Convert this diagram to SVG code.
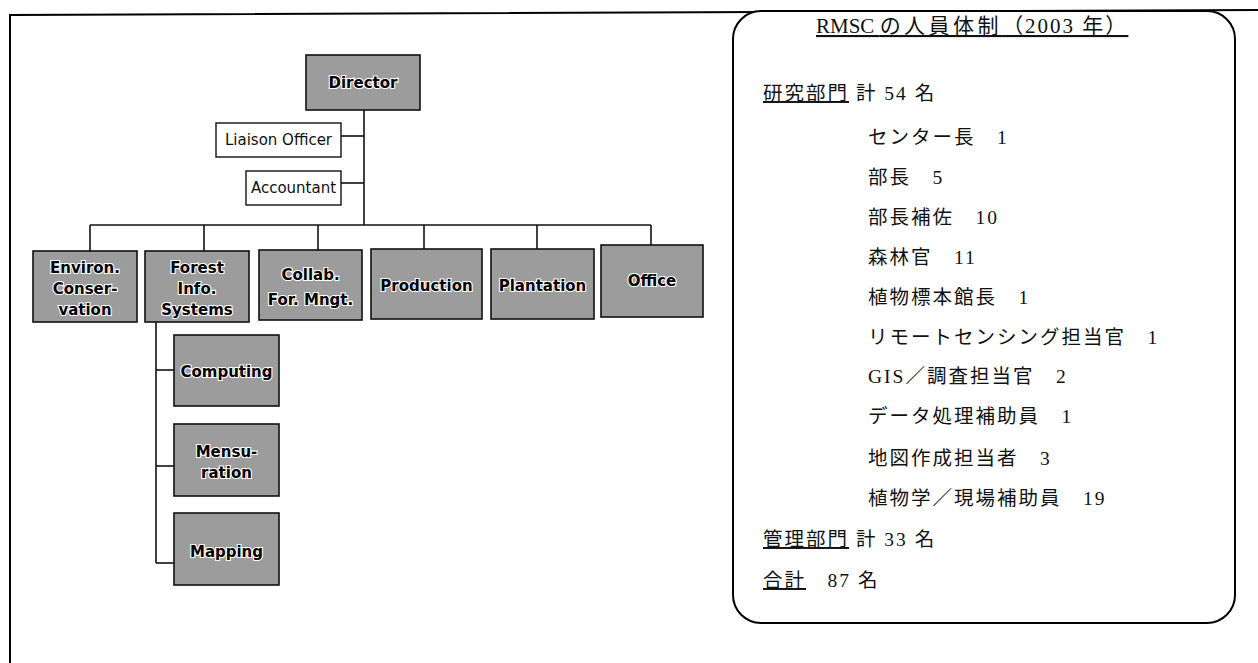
<svg xmlns="http://www.w3.org/2000/svg" width="1258" height="663" viewBox="0 0 1258 663">
<style>
.frame{fill:none;stroke:#000;stroke-width:2}
.gbox{fill:#9c9c9c;stroke:#111;stroke-width:1.6}
.wbox{fill:#fff;stroke:#111;stroke-width:1.4}
.gt{font-family:"DejaVu Sans",Verdana,sans-serif;font-weight:bold;font-size:15px;fill:#000;stroke:#fff;stroke-width:2.2;paint-order:stroke;text-anchor:middle}
.wt{font-family:"DejaVu Sans",Verdana,sans-serif;font-size:15px;fill:#111;text-anchor:middle}
.conn line{stroke:#111;stroke-width:1.6}
.jp{font-family:"Liberation Serif","Noto Sans CJK JP",serif;font-size:19.5px;fill:#111;letter-spacing:2px}
.ttl{font-family:"Liberation Serif","Noto Sans CJK JP",serif;font-size:21px;fill:#111;text-decoration:underline}
.cj{letter-spacing:3.5px}
.yr{letter-spacing:2px}
.u{text-decoration:underline}
</style>
<rect width="1258" height="663" fill="#fff"/>
<path class="frame" d="M10 663 L10 15 L1258 10"/>

<g id="connectors" class="conn">
<line x1="364" y1="110" x2="364" y2="225"/>
<line x1="341" y1="136" x2="364" y2="136"/>
<line x1="341" y1="183" x2="364" y2="183"/>
<line x1="90" y1="225" x2="651" y2="225"/>
<line x1="90" y1="225" x2="90" y2="251"/>
<line x1="204" y1="225" x2="204" y2="251"/>
<line x1="318" y1="225" x2="318" y2="250"/>
<line x1="424" y1="225" x2="424" y2="249"/>
<line x1="537" y1="225" x2="537" y2="249"/>
<line x1="651" y1="225" x2="651" y2="245"/>
<line x1="156" y1="322" x2="156" y2="563"/>
<line x1="156" y1="370" x2="174" y2="370"/>
<line x1="156" y1="466" x2="174" y2="466"/>
<line x1="156" y1="563" x2="174" y2="563"/>
</g>

<g id="director"><rect class="gbox" x="306" y="55" width="114" height="55"/><text class="gt" x="363" y="88">Director</text></g>
<g id="liaison"><rect class="wbox" x="216" y="123" width="125" height="34"/><text class="wt" x="278.5" y="145">Liaison Officer</text></g>
<g id="accountant"><rect class="wbox" x="246" y="171" width="95" height="34"/><text class="wt" x="293.5" y="193">Accountant</text></g>

<g id="environ"><rect class="gbox" x="33" y="251" width="104" height="71"/><text class="gt" x="85" y="273">Environ.</text><text class="gt" x="85" y="294">Conser-</text><text class="gt" x="85" y="315">vation</text></g>
<g id="forest"><rect class="gbox" x="145" y="251" width="104" height="71"/><text class="gt" x="197" y="273">Forest</text><text class="gt" x="197" y="294">Info.</text><text class="gt" x="197" y="315">Systems</text></g>
<g id="collab"><rect class="gbox" x="259" y="250" width="103" height="70"/><text class="gt" x="310.5" y="280">Collab.</text><text class="gt" x="310.5" y="305">For. Mngt.</text></g>
<g id="production"><rect class="gbox" x="371" y="249" width="111" height="70"/><text class="gt" x="426.5" y="291">Production</text></g>
<g id="plantation"><rect class="gbox" x="491" y="249" width="103" height="70"/><text class="gt" x="542.5" y="291">Plantation</text></g>
<g id="office"><rect class="gbox" x="601" y="245" width="102" height="72"/><text class="gt" x="652" y="286">Office</text></g>

<g id="computing"><rect class="gbox" x="174" y="335" width="105" height="71"/><text class="gt" x="226.5" y="377">Computing</text></g>
<g id="mensuration"><rect class="gbox" x="174" y="424" width="105" height="72"/><text class="gt" x="226.5" y="457">Mensu-</text><text class="gt" x="226.5" y="478">ration</text></g>
<g id="mapping"><rect class="gbox" x="174" y="513" width="105" height="72"/><text class="gt" x="226.5" y="557">Mapping</text></g>

<g id="staff-box">
<rect x="733" y="11" width="502" height="612" rx="28" ry="28" fill="#fff" stroke="#000" stroke-width="2"/>
<text class="ttl" x="816" y="33">RMSC <tspan class="cj">の人員体制</tspan><tspan class="yr">（2003 年）</tspan></text>
<text class="jp" x="763" y="100"><tspan class="u">研究部門</tspan> 計 54 名</text>
<text class="jp" x="868" y="144">センター長　1</text>
<text class="jp" x="868" y="184">部長　5</text>
<text class="jp" x="868" y="224">部長補佐　10</text>
<text class="jp" x="868" y="264">森林官　11</text>
<text class="jp" x="868" y="304">植物標本館長　1</text>
<text class="jp" x="868" y="344">リモートセンシング担当官　1</text>
<text class="jp" x="868" y="383">GIS／調査担当官　2</text>
<text class="jp" x="868" y="423">データ処理補助員　1</text>
<text class="jp" x="868" y="465">地図作成担当者　3</text>
<text class="jp" x="868" y="505">植物学／現場補助員　19</text>
<text class="jp" x="763" y="546"><tspan class="u">管理部門</tspan> 計 33 名</text>
<text class="jp" x="763" y="587"><tspan class="u">合計</tspan>　87 名</text>
</g>
</svg>
